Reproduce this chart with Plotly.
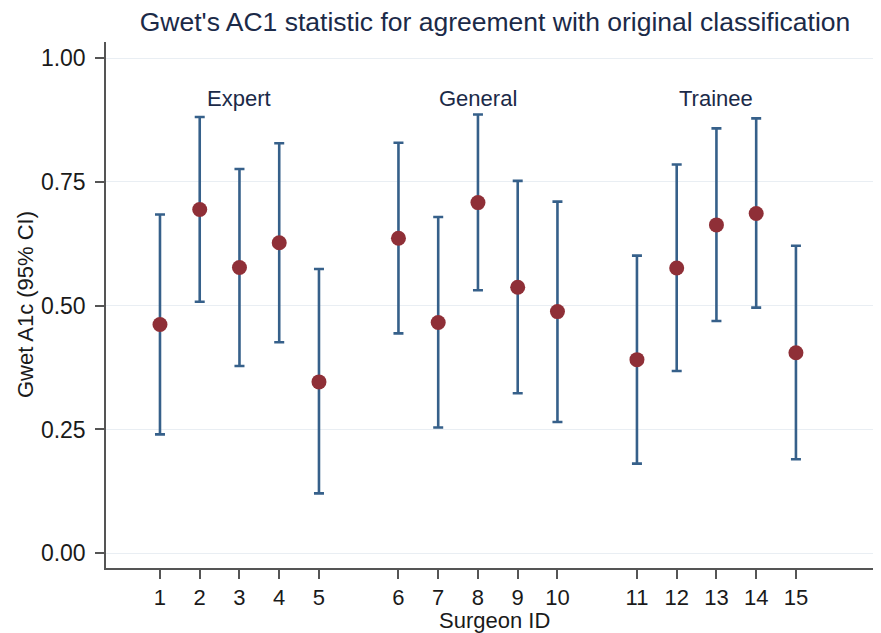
import plotly.graph_objects as go

# ---- data ----
surgeon_ids = list(range(1, 16))
groups = ["Expert"] * 5 + ["General"] * 5 + ["Trainee"] * 5
group_names = ["Expert", "General", "Trainee"]
ac1 = [0.462, 0.694, 0.577, 0.627, 0.346,
       0.636, 0.466, 0.708, 0.537, 0.488,
       0.391, 0.576, 0.663, 0.686, 0.405]
ci_low = [0.240, 0.508, 0.378, 0.426, 0.121,
          0.444, 0.254, 0.531, 0.323, 0.265,
          0.181, 0.368, 0.469, 0.496, 0.190]
ci_high = [0.684, 0.881, 0.776, 0.828, 0.574,
           0.829, 0.679, 0.886, 0.752, 0.710,
           0.601, 0.785, 0.858, 0.878, 0.621]
y_ticks = [0.0, 0.25, 0.5, 0.75, 1.0]
y_tick_labels = ["0.00", "0.25", "0.50", "0.75", "1.00"]

# positions: leave a gap between groups
pos = [sid + group_names.index(g) for sid, g in zip(surgeon_ids, groups)]

NAVY = "#36608a"
MAROON = "#8f2f37"
FONT = "Liberation Sans, Arial, sans-serif"
TXT = "#1a1a1a"

# page body has an 8px margin, so the figure is sized to fit the window
W, H = 873, 625

fig = go.Figure()

fig.add_trace(go.Scatter(
    x=pos, y=ac1, mode="markers",
    marker=dict(color=MAROON, size=15, line=dict(width=0)),
    error_y=dict(type="data", symmetric=False,
                 array=[h - v for h, v in zip(ci_high, ac1)],
                 arrayminus=[v - l for v, l in zip(ac1, ci_low)],
                 color=NAVY, thickness=2.6, width=5),
    showlegend=False,
))

# group labels
for gname in group_names:
    gp = [p for p, g in zip(pos, groups) if g == gname]
    fig.add_annotation(x=sum(gp) / len(gp), y=0.919, xref="x", yref="y",
                       text=gname, showarrow=False,
                       font=dict(family=FONT, size=22, color="#1b2a48"))

# axis titles as annotations
fig.add_annotation(x=-0.1045, y=0.5, xref="paper", yref="paper",
                   text="Gwet A1c (95% CI)", textangle=-90, showarrow=False,
                   xanchor="center", yanchor="middle",
                   font=dict(family=FONT, size=22, color=TXT))
fig.add_annotation(x=0.501, y=-0.0995, xref="paper", yref="paper",
                   text="Surgeon ID", showarrow=False,
                   xanchor="center", yanchor="middle",
                   font=dict(family=FONT, size=22, color=TXT))

fig.update_layout(
    width=W, height=H,
    margin=dict(l=98, r=0, t=34, b=65),
    paper_bgcolor="white", plot_bgcolor="white",
    title=dict(text="Gwet's AC1 statistic for agreement with original classification",
               x=487 / W, xref="container", xanchor="center",
               y=1 - 14 / H, yref="container", yanchor="middle",
               font=dict(family=FONT, size=26.5, color="#1b2a48")),
    font=dict(family=FONT, size=22, color=TXT),
)

fig.update_xaxes(
    range=[-0.358, 19.14],
    tickmode="array", tickvals=pos, ticktext=[str(s) for s in surgeon_ids],
    showgrid=False, zeroline=False,
    showline=True, linecolor="#555555", linewidth=1.5,
    ticks="outside", ticklen=9, tickwidth=1.5, tickcolor="#555555",
    tickfont=dict(family=FONT, size=22, color=TXT),
)
fig.update_yaxes(
    range=[-0.0297, 1.0323],
    tickmode="array", tickvals=y_ticks, ticktext=y_tick_labels,
    showgrid=True, gridcolor="#e9eef3", gridwidth=1.2, zeroline=False,
    showline=True, linecolor="#555555", linewidth=1.5,
    ticks="outside", ticklen=9, tickwidth=1.5, tickcolor="#555555",
    ticklabelstandoff=5,
    tickfont=dict(family=FONT, size=23, color=TXT),
)

fig.write_html("out.html")
